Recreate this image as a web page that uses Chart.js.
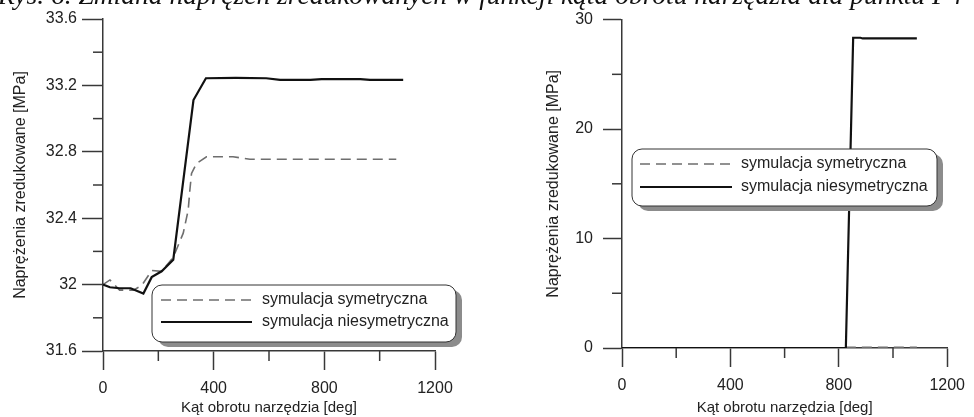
<!DOCTYPE html>
<html lang="pl">
<head>
<meta charset="utf-8">
<script src="https://cdn.jsdelivr.net/npm/chart.js@4.4.1/dist/chart.umd.min.js"></script>
<style>
  html, body { margin: 0; padding: 0; background: #fff; }
  body { width: 974px; height: 417px; position: relative; overflow: hidden; }
  .panel { position: absolute; top: 0; width: 487px; height: 417px; }
  .caption { position: absolute; left: -2px; top: -19px; font: italic 27.5px/27px 'Liberation Serif', serif; color: #111; white-space: nowrap; }
</style>
</head>
<body>
<div class="panel" style="left:0"><canvas id="chartLewy"></canvas></div>
<div class="panel" style="left:487px"><canvas id="chartPrawy"></canvas></div>
<div class="caption">Rys. 6. Zmiana naprężeń zredukowanych w funkcji kąta obrotu narzędzia dla punktu P4</div>
<script>
const SERIES_LABELS = ['symulacja symetryczna', 'symulacja niesymetryczna'];
const X_TITLE = 'Kąt obrotu narzędzia [deg]';
const Y_TITLE = 'Naprężenia zredukowane [MPa]';

// lewy wykres
const katSymL = [0, 25, 60, 110, 140, 176, 212, 254, 290, 308, 314, 320, 338, 374, 470, 531, 1060];
const napSymL = [32.0, 32.028, 31.967, 31.967, 31.995, 32.085, 32.08, 32.165, 32.31, 32.45, 32.57, 32.67, 32.73, 32.77, 32.77, 32.755, 32.755];
const katNiesymL = [0, 25, 60, 100, 146, 176, 212, 254, 327, 372, 480, 590, 640, 750, 790, 930, 965, 1085];
const napNiesymL = [32.0, 31.984, 31.978, 31.978, 31.946, 32.045, 32.08, 32.15, 33.112, 33.243, 33.245, 33.243, 33.233, 33.233, 33.238, 33.238, 33.233, 33.233];

// prawy wykres
const katSymP = [0, 826, 830, 1088];
const napSymP = [0, 0, 0.06, 0.06];
const katNiesymP = [0, 826, 853, 880, 888, 1088];
const napNiesymP = [0, 0, 28.34, 28.34, 28.28, 28.28];

// osie: [min, max, krok podziałki, krok opisu]
const osX = [0, 1200, 200, 400];
const osYLewy = [31.6, 33.6, 0.2, 0.4];
const osYPrawy = [0, 30, 5, 10];

const AXIS = '#383838';
const FONT = '"Liberation Sans", Arial, sans-serif';

function pts(xs, ys) {
  return xs.map((x, i) => ({ x, y: ys[i] }));
}
function isMajor(value, step) {
  const r = value / step;
  return Math.abs(r - Math.round(r)) < 1e-6;
}
function fmt(value) {
  return String(Number(value.toFixed(1)));
}

function roundRectPath(ctx, x, y, w, h, r) {
  ctx.beginPath();
  ctx.moveTo(x + r, y);
  ctx.lineTo(x + w - r, y);
  ctx.arcTo(x + w, y, x + w, y + r, r);
  ctx.lineTo(x + w, y + h - r);
  ctx.arcTo(x + w, y + h, x + w - r, y + h, r);
  ctx.lineTo(x + r, y + h);
  ctx.arcTo(x, y + h, x, y + h - r, r);
  ctx.lineTo(x, y + r);
  ctx.arcTo(x, y, x + r, y, r);
  ctx.closePath();
}

// krótkie znaczniki pośrednie
const minorTicks = {
  id: 'minorTicks',
  afterDraw(chart, args, o) {
    const ctx = chart.ctx;
    ctx.save();
    ctx.strokeStyle = AXIS;
    ctx.lineWidth = 1.5;
    const sx = chart.scales.x;
    const sy = chart.scales.y;
    sx.ticks.forEach((t, i) => {
      if (isMajor(t.value, o.xMajor)) return;
      const p = sx.getPixelForTick(i);
      ctx.beginPath();
      ctx.moveTo(p, sx.top);
      ctx.lineTo(p, sx.top + o.len);
      ctx.stroke();
    });
    sy.ticks.forEach((t, i) => {
      if (isMajor(t.value, o.yMajor)) return;
      const p = sy.getPixelForTick(i);
      ctx.beginPath();
      ctx.moveTo(sy.right, p);
      ctx.lineTo(sy.right - o.len, p);
      ctx.stroke();
    });
    ctx.restore();
  }
};

// legenda w zaokrąglonej ramce z cieniem
const ramkaLegendy = {
  id: 'ramkaLegendy',
  afterDraw(chart, args, o) {
    const ctx = chart.ctx;
    ctx.save();
    ctx.fillStyle = '#8c8c8c';
    roundRectPath(ctx, o.x + 6, o.y + 5, o.w, o.h, o.r);
    ctx.fill();
    ctx.fillStyle = '#fff';
    ctx.strokeStyle = '#333';
    ctx.lineWidth = 1;
    roundRectPath(ctx, o.x, o.y, o.w, o.h, o.r);
    ctx.fill();
    ctx.stroke();
    chart.data.datasets.forEach((ds, i) => {
      const y = o.y + o.row0 + i * o.rowGap;
      ctx.strokeStyle = ds.borderColor;
      ctx.lineWidth = ds.borderWidth;
      ctx.setLineDash(ds.borderDash || []);
      ctx.beginPath();
      ctx.moveTo(o.x + o.line0, y);
      ctx.lineTo(o.x + o.line1, y);
      ctx.stroke();
      ctx.setLineDash([]);
      ctx.fillStyle = '#222';
      ctx.font = '16px ' + FONT;
      ctx.textBaseline = 'middle';
      ctx.fillText(ds.label, o.x + o.text, y);
    });
    ctx.restore();
  }
};

function datasets(symX, symY, niesymX, niesymY) {
  return [
    {
      label: SERIES_LABELS[0],
      data: pts(symX, symY),
      borderColor: '#6e6e6e',
      borderWidth: 1.6,
      borderDash: [10, 6],
      pointRadius: 0,
      tension: 0,
      order: 1
    },
    {
      label: SERIES_LABELS[1],
      data: pts(niesymX, niesymY),
      borderColor: '#111',
      borderWidth: 2.2,
      pointRadius: 0,
      tension: 0,
      order: 0
    }
  ];
}

function options(cfg) {
  return {
    responsive: true,
    maintainAspectRatio: false,
    animation: false,
    layout: { padding: { left: 0, top: cfg.top, right: cfg.right, bottom: 0 } },
    plugins: {
      legend: { display: false },
      tooltip: { enabled: false },
      minorTicks: { xMajor: osX[3], yMajor: cfg.os[3], len: 10 },
      ramkaLegendy: cfg.legend
    },
    scales: {
      x: {
        type: 'linear',
        min: osX[0],
        max: osX[1],
        afterFit: (s) => { s.height = cfg.xHeight; },
        border: { display: true, color: AXIS, width: 1.5 },
        grid: {
          drawOnChartArea: false,
          tickLength: 19,
          tickWidth: 1.5,
          tickColor: (c) => isMajor(c.tick.value, osX[3]) ? AXIS : 'rgba(0,0,0,0)'
        },
        ticks: {
          stepSize: osX[2],
          padding: 9,
          color: '#222',
          font: { family: FONT, size: 16 },
          maxRotation: 0,
          autoSkip: false,
          callback: (v) => isMajor(v, osX[3]) ? fmt(v) : ''
        },
        title: {
          display: true,
          text: X_TITLE,
          color: '#222',
          font: { family: FONT, size: 15 },
          padding: { top: 0, bottom: 0 }
        }
      },
      y: {
        type: 'linear',
        min: cfg.os[0],
        max: cfg.os[1],
        afterFit: (s) => { s.width = cfg.yWidth; },
        border: { display: true, color: AXIS, width: 1.5 },
        grid: {
          drawOnChartArea: false,
          tickLength: cfg.yTick,
          tickWidth: 1.5,
          tickColor: (c) => isMajor(c.tick.value, cfg.os[3]) ? AXIS : 'rgba(0,0,0,0)'
        },
        ticks: {
          stepSize: cfg.os[2],
          padding: cfg.yPad,
          color: '#222',
          font: { family: FONT, size: 16 },
          autoSkip: false,
          callback: (v) => isMajor(v, cfg.os[3]) ? fmt(v) : ''
        },
        title: {
          display: true,
          text: Y_TITLE,
          color: '#222',
          font: { family: FONT, size: 16 },
          padding: { top: cfg.yTitlePad, bottom: 0 }
        }
      }
    }
  };
}

new Chart(document.getElementById('chartLewy'), {
  type: 'line',
  data: { datasets: datasets(katSymL, napSymL, katNiesymL, napNiesymL) },
  options: options({
    os: osYLewy, top: 19, right: 52, xHeight: 66, yWidth: 103, yTick: 21, yPad: 5, yTitlePad: 11,
    legend: { x: 152, y: 285, w: 304, h: 57, r: 10, row0: 15, rowGap: 22, line0: 9, line1: 100, text: 110 }
  }),
  plugins: [minorTicks, ramkaLegendy]
});

new Chart(document.getElementById('chartPrawy'), {
  type: 'line',
  data: { datasets: datasets(katSymP, napSymP, katNiesymP, napNiesymP) },
  options: options({
    os: osYPrawy, top: 16, right: 20, xHeight: 69, yWidth: 135, yTick: 19, yPad: 10, yTitlePad: 57,
    legend: { x: 145, y: 149, w: 305, h: 57, r: 10, row0: 15, rowGap: 23, line0: 8, line1: 100, text: 109 }
  }),
  plugins: [minorTicks, ramkaLegendy]
});
</script>
</body>
</html>
